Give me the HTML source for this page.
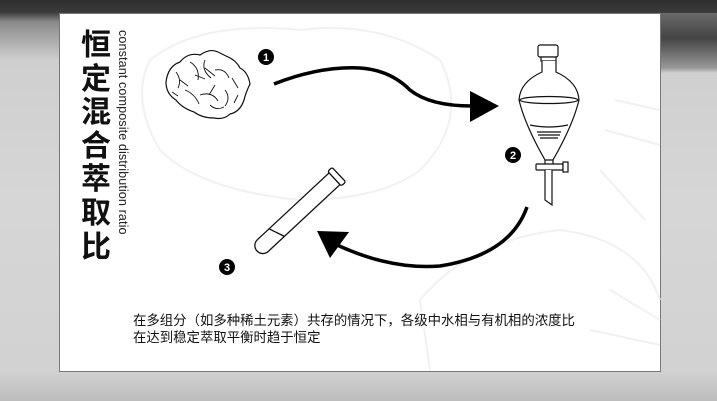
<!DOCTYPE html>
<html><head><meta charset="utf-8"><style>
html,body{margin:0;padding:0}
body{width:717px;height:401px;overflow:hidden;position:relative;font-family:"Liberation Sans","Noto Sans CJK SC",sans-serif;
background:linear-gradient(180deg,#2e2e2e 0,#3a3a3a 12px,#8a8a8a 22px,#cfcfcf 60px,#d6d6d6 200px,#d2d2d2 370px,#bdbdbd 401px);}
.rband{position:absolute;left:660px;top:13px;width:57px;height:60px;background:linear-gradient(180deg,#6a6a6a,#444 25px,#999 55px,#d0d0d0)}
.card{position:absolute;left:59px;top:13px;width:600px;height:357px;background:#fff;border:1px solid #777;box-sizing:content-box}
.title{position:absolute;left:79px;top:26px;width:34px;font-size:30px;line-height:33.6px;font-weight:bold;color:#111;font-family:"Noto Sans CJK SC",sans-serif;text-align:center}
.sub{position:absolute;left:116px;top:30px;writing-mode:vertical-rl;font-size:12.6px;color:#222;white-space:nowrap;letter-spacing:0.1px}
.desc{position:absolute;left:133px;top:312px;font-size:13.4px;line-height:17px;color:#111;font-family:"Liberation Sans","Noto Sans CJK SC",sans-serif;white-space:nowrap}
</style></head><body>
<div class="rband"></div>
<div class="card"></div>
<svg width="717" height="401" style="position:absolute;left:0;top:0">
<g fill="none" stroke="#f1f1f1" stroke-width="2">
<path d="M150 60 Q200 20 300 30 Q380 20 440 60 Q470 120 420 170 Q380 200 300 200 Q200 190 160 150 Q130 100 150 60Z"/>
<path d="M420 300 Q470 240 560 230 Q640 240 660 300"/>
<path d="M430 370 L420 300"/>
<path d="M615 100 L660 110 M605 130 L660 145 M600 170 L645 220"/>
<path d="M610 290 L660 320 M590 330 L660 345"/>
</g>
<g fill="#fff" stroke="#111" stroke-width="1.2">
<path d="M166 82 Q168 66 180 62 Q188 52 200 55 Q210 48 218 52 L226 56 Q236 60 240 68 Q248 72 250 84 Q246 92 244 100 Q240 112 230 114 Q224 120 214 118 Q202 118 194 112 Q182 108 176 100 Q166 94 166 82Z"/>
</g>
<g fill="none" stroke="#111" stroke-width="0.9">
<path d="M176 72 q6 8 2 16 M190 62 q10 6 8 18 M205 60 q-4 10 6 18 M215 70 q10 -2 14 8 M185 90 q10 4 14 14 M200 95 q12 -4 18 6 M225 90 q6 8 0 16 M210 105 q6 6 14 2 M180 80 l8 6 M232 78 l6 10 M195 75 l10 4 M215 85 l-6 10 M172 92 l6 4 M238 95 l-4 8 M205 68 l10 8"/>
</g>
<path d="M274 84 Q320 66 360 68 Q390 70 410 90 Q430 106 472 106" fill="none" stroke="#000" stroke-width="3.5"/>
<polygon points="470,91 499,106 470,122" fill="#000"/>
<path d="M527 207 Q510 255 440 266 Q390 270 335 244" fill="none" stroke="#000" stroke-width="3.5"/>
<polygon points="317,231 349,232 330,258" fill="#000"/>
<g font-family="Liberation Sans" font-weight="bold" font-size="11" text-anchor="middle">
<circle cx="266" cy="57" r="8" fill="#000"/><text x="266" y="61" fill="#fff">1</text>
<circle cx="513" cy="155" r="8" fill="#000"/><text x="513" y="159" fill="#fff">2</text>
<circle cx="227" cy="267" r="8" fill="#000"/><text x="227" y="271" fill="#fff">3</text>
</g>
<g fill="#fff" stroke="#111" stroke-width="1.2">
<rect x="538" y="45" width="20" height="12" rx="2"/>
<rect x="541" y="57" width="15" height="4"/>
<path d="M542 61 L542 72 Q520 82 519 100 Q525 125 545 160 L553 160 Q573 125 579 100 Q578 82 556 72 L556 61"/>
<ellipse cx="549" cy="100" rx="29" ry="3.5"/>
<path d="M530 125 Q549 129 568 125 M537 132 L561 132 M538 135 L560 135 M540 138 L558 138" fill="none"/>
<rect x="536" y="164" width="27" height="6" rx="1"/>
<rect x="563" y="162" width="5" height="10"/>
<path d="M545 170 L545 200 L552 205 L552 170" />
<path d="M545 160 L545 164 M553 160 L553 164" fill="none"/>
</g>
<g transform="translate(257,251) rotate(-43)" stroke="#111" stroke-width="1.3" fill="#fff">
<path d="M8 -8 L106 -8 L106 8 L8 8 A8 8 0 0 1 8 -8Z"/>
<path d="M24 -8 Q27 0 30 8" fill="none"/>
<rect x="106" y="-10" width="6" height="20" rx="2"/>
</g>
</svg>
<div class="title">恒<br>定<br>混<br>合<br>萃<br>取<br>比</div>
<div class="sub">constant composite distribution ratio</div>
<div class="desc">在多组分（如多种稀土元素）共存的情况下，各级中水相与有机相的浓度比<br>在达到稳定萃取平衡时趋于恒定</div>
</body></html>
